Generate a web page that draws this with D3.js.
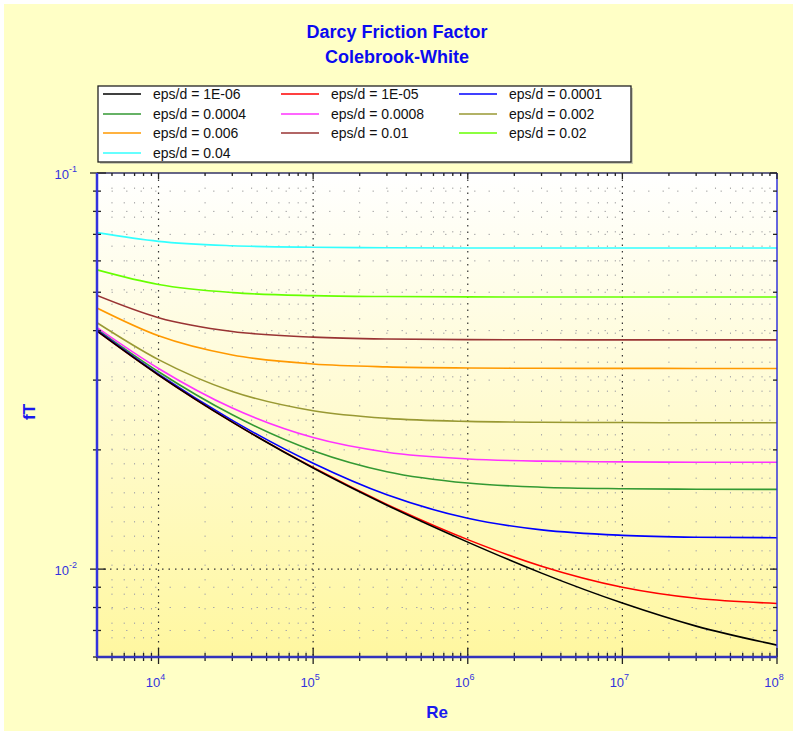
<!DOCTYPE html>
<html>
<head>
<meta charset="utf-8">
<script src="https://cdn.jsdelivr.net/npm/d3@7"></script>
<style>
  body { margin: 0; background: #ffffff; }
  text { font-family: Arial, "Liberation Sans", sans-serif; }
</style>
</head>
<body>
<div id="chart"></div>
<script>
var reynolds = [4e3, 1e4, 3e4, 1e5, 3e5, 1e6, 3e6, 1e7, 3e7, 1e8];

// friction factor per roughness
var eps_1e6  = [0.0399, 0.0309, 0.0235, 0.0180, 0.0145, 0.0117, 0.00977, 0.00821, 0.00718, 0.00643];
var eps_1e5  = [0.0399, 0.0309, 0.0235, 0.01805, 0.01457, 0.01187, 0.01017, 0.0090, 0.00844, 0.00819];
var eps_1e4  = [0.0401, 0.03105, 0.02374, 0.0185, 0.0154, 0.01344, 0.01256, 0.01217, 0.01204, 0.0120];
var eps_4e4  = [0.0403, 0.0315, 0.02453, 0.01991, 0.01762, 0.01649, 0.0161, 0.01596, 0.01591, 0.0159];
var eps_8e4  = [0.0407, 0.03209, 0.0255, 0.02148, 0.01973, 0.01897, 0.01873, 0.01865, 0.01862, 0.01861];
var eps_002  = [0.04188, 0.03379, 0.02809, 0.02511, 0.02402, 0.0236, 0.02348, 0.02344, 0.02342, 0.02342];
var eps_006  = [0.0456, 0.0388, 0.0347, 0.03295, 0.0324, 0.0322, 0.03214, 0.03212, 0.03211, 0.03211];
var eps_01   = [0.04907, 0.04313, 0.0398, 0.03851, 0.0381, 0.03797, 0.03793, 0.0379, 0.0379, 0.0379];
var eps_02   = [0.05696, 0.0523, 0.0499, 0.04903, 0.04877, 0.04867, 0.04864, 0.04863, 0.04862, 0.04862];
var eps_04   = [0.0707, 0.0672, 0.06553, 0.06493, 0.06475, 0.06468, 0.06466, 0.06465, 0.06465, 0.06465];

var labels = ["eps/d = 1E-06", "eps/d = 1E-05", "eps/d = 0.0001", "eps/d = 0.0004",
              "eps/d = 0.0008", "eps/d = 0.002", "eps/d = 0.006", "eps/d = 0.01",
              "eps/d = 0.02", "eps/d = 0.04"];
var colors = ["#000000", "#ff0000", "#0000ff", "#339933", "#ff33ff",
              "#999933", "#ff9900", "#993333", "#66ff00", "#33ffff"];
var seriesValues = [eps_1e6, eps_1e5, eps_1e4, eps_4e4, eps_8e4, eps_002, eps_006, eps_01, eps_02, eps_04];

var xTickExps = [4, 5, 6, 7, 8];
var yTickExps = [-1, -2];

var width = 793, height = 731;
var margin = {left: 97, right: 16, top: 173, bottom: 74};

var svg = d3.select("#chart").append("svg")
    .attr("width", width)
    .attr("height", height);

svg.append("rect").attr("x", 4).attr("y", 4)
    .attr("width", width - 4).attr("height", height - 4)
    .attr("fill", "#ffffc6");

var defs = svg.append("defs");
var grad = defs.append("linearGradient").attr("id", "plotbg")
    .attr("x1", 0).attr("y1", 0).attr("x2", 0).attr("y2", 1);
grad.append("stop").attr("offset", "0%").attr("stop-color", "#ffffff");
grad.append("stop").attr("offset", "100%").attr("stop-color", "#fff7a0");

var x = d3.scaleLog().domain([4000, 1e8]).range([margin.left, width - margin.right]);
var y = d3.scaleLog().domain([0.006, 0.1]).range([height - margin.bottom, margin.top]);

var x0 = x.range()[0], x1 = x.range()[1], y0 = y.range()[1], y1 = y.range()[0];

svg.append("rect")
    .attr("x", x0).attr("y", y0)
    .attr("width", x1 - x0).attr("height", y1 - y0)
    .attr("fill", "url(#plotbg)");

// tick values
var xMinor = [], yMinor = [];
for (var e = 3; e < 8; e++) {
  for (var m = 1; m < 10; m++) {
    var v = m * Math.pow(10, e);
    if (v >= 4000 && v <= 1e8) xMinor.push(v);
  }
}
xMinor.push(1e8);
for (var e = -3; e < -1; e++) {
  for (var m = 1; m < 10; m++) {
    var v = m * Math.pow(10, e);
    if (v >= 0.006 - 1e-9 && v <= 0.1) yMinor.push(v);
  }
}
yMinor.push(0.1);
var isMajor = function(v) { return Math.abs(Math.log10(v) - Math.round(Math.log10(v))) < 1e-9; };

// grid
var grid = svg.append("g");
grid.selectAll(".gx").data(xMinor.filter(function(d) { return d > 4000 && d < 1e8; }))
  .enter().append("line")
  .attr("x1", function(d) { return x(d); }).attr("x2", function(d) { return x(d); })
  .attr("y1", y0).attr("y2", y1)
  .attr("stroke", function(d) { return isMajor(d) ? "#333" : "#aaa"; })
  .attr("stroke-width", function(d) { return isMajor(d) ? 1.2 : 1; })
  .attr("stroke-dasharray", function(d) { return isMajor(d) ? "1.5,5" : "1.5,13"; });
grid.selectAll(".gy").data(yMinor.filter(function(d) { return d > 0.006 && d < 0.1; }))
  .enter().append("line")
  .attr("x1", x0).attr("x2", x1)
  .attr("y1", function(d) { return y(d); }).attr("y2", function(d) { return y(d); })
  .attr("stroke", function(d) { return isMajor(d) ? "#333" : "#aaa"; })
  .attr("stroke-width", function(d) { return isMajor(d) ? 1.2 : 1; })
  .attr("stroke-dasharray", function(d) { return isMajor(d) ? "1.5,5" : "1.5,13"; });

// curves
var line = d3.line()
    .x(function(d) { return x(d[0]); })
    .y(function(d) { return y(d[1]); })
    .curve(d3.curveMonotoneX);

var clip = defs.append("clipPath").attr("id", "plotclip");
clip.append("rect").attr("x", x0).attr("y", y0).attr("width", x1 - x0).attr("height", y1 - y0);

svg.append("g").attr("clip-path", "url(#plotclip)")
  .selectAll("path").data(seriesValues.slice().reverse())
  .enter().append("path")
  .attr("d", function(vals) { return line(reynolds.map(function(r, i) { return [r, vals[i]]; })); })
  .attr("fill", "none")
  .attr("stroke", function(vals) { return colors[seriesValues.indexOf(vals)]; })
  .attr("stroke-width", 1.6);

// axes frame
var axisBlue = "#3333dd";
svg.append("line").attr("x1", x0).attr("x2", x1).attr("y1", y0).attr("y2", y0)
  .attr("stroke", "#333366").attr("stroke-width", 1.5);
svg.append("line").attr("x1", x1).attr("x2", x1).attr("y1", y0).attr("y2", y1)
  .attr("stroke", axisBlue).attr("stroke-width", 1.5);

// tick marks
var ticks = svg.append("g").attr("stroke", "#222").attr("stroke-width", 1.3);
ticks.selectAll(".tb").data(xMinor).enter().append("line")
  .attr("x1", function(d) { return x(d); }).attr("x2", function(d) { return x(d); })
  .attr("y1", function(d) { return isMajor(d) ? y1 - 9 : y1 - 4; })
  .attr("y2", function(d) { return isMajor(d) ? y1 + 7 : y1 + 4; });
ticks.selectAll(".tt").data(xMinor).enter().append("line")
  .attr("x1", function(d) { return x(d); }).attr("x2", function(d) { return x(d); })
  .attr("y1", y0)
  .attr("y2", function(d) { return isMajor(d) ? y0 + 6 : y0 + 3; });
ticks.selectAll(".tl").data(yMinor).enter().append("line")
  .attr("y1", function(d) { return y(d); }).attr("y2", function(d) { return y(d); })
  .attr("x1", function(d) { return isMajor(d) ? x0 - 7 : x0 - 4; })
  .attr("x2", function(d) { return isMajor(d) ? x0 + 9 : x0 + 4; });
ticks.selectAll(".tr").data(yMinor).enter().append("line")
  .attr("y1", function(d) { return y(d); }).attr("y2", function(d) { return y(d); })
  .attr("x1", function(d) { return isMajor(d) ? x1 - 7 : x1 - 4; })
  .attr("x2", x1);

svg.append("line").attr("x1", x0).attr("x2", x0).attr("y1", y0).attr("y2", y1)
  .attr("stroke", axisBlue).attr("stroke-width", 2.5);
svg.append("line").attr("x1", x0).attr("x2", x1).attr("y1", y1).attr("y2", y1)
  .attr("stroke", "#3333bb").attr("stroke-width", 2.5);

// tick labels
var labelBlue = "#3333dd";
var xl = svg.append("g").attr("fill", labelBlue);
xTickExps.forEach(function(p) {
  var t = xl.append("text")
    .attr("x", x(Math.pow(10, p)) - 3).attr("y", y1 + 30)
    .attr("text-anchor", "middle").attr("font-size", 13);
  t.append("tspan").text("10");
  t.append("tspan").attr("font-size", 9).attr("dy", -7).text(p);
});
yTickExps.forEach(function(p) {
  var t = xl.append("text")
    .attr("x", x0 - 20).attr("y", y(Math.pow(10, p)) + 6)
    .attr("text-anchor", "end").attr("font-size", 13);
  t.append("tspan").text("10");
  t.append("tspan").attr("font-size", 9).attr("dy", -7).text(p);
});

// axis titles
svg.append("text").attr("x", 437).attr("y", 718)
  .attr("text-anchor", "middle").attr("font-size", 17).attr("font-weight", "bold")
  .attr("fill", "#1a1aee").text("Re");
svg.append("text")
  .attr("transform", "translate(35, 412) rotate(-90)")
  .attr("text-anchor", "middle").attr("font-size", 17).attr("font-weight", "bold")
  .attr("fill", "#1a1aee").text("fT");

// title
svg.append("text").attr("x", 397).attr("y", 38)
  .attr("text-anchor", "middle").attr("font-size", 18).attr("font-weight", "bold")
  .attr("fill", "#0a0af0").text("Darcy Friction Factor");
svg.append("text").attr("x", 397).attr("y", 63)
  .attr("text-anchor", "middle").attr("font-size", 18).attr("font-weight", "bold")
  .attr("fill", "#0a0af0").text("Colebrook-White");

// legend
var legend = svg.append("g");
legend.append("rect").attr("x", 100).attr("y", 88).attr("width", 533).attr("height", 76)
  .attr("fill", "#999").attr("opacity", 0.5);
legend.append("rect").attr("x", 98).attr("y", 86).attr("width", 533).attr("height", 76)
  .attr("fill", "#fff").attr("stroke", "#222").attr("stroke-width", 1.3);
var colX = [103, 281, 459];
var rowY = [94, 114, 133, 153];
var items = legend.selectAll(".item").data(labels).enter().append("g")
  .attr("transform", function(d, i) { return "translate(" + colX[i % 3] + "," + rowY[Math.floor(i / 3)] + ")"; });
items.append("line").attr("x1", 0).attr("x2", 38).attr("y1", 0).attr("y2", 0)
  .attr("stroke", function(d, i) { return colors[i]; }).attr("stroke-width", 1.6);
items.append("text").attr("x", 50).attr("y", 5)
  .attr("font-size", 14).attr("fill", "#111").text(function(d) { return d; });
</script>
</body>
</html>
